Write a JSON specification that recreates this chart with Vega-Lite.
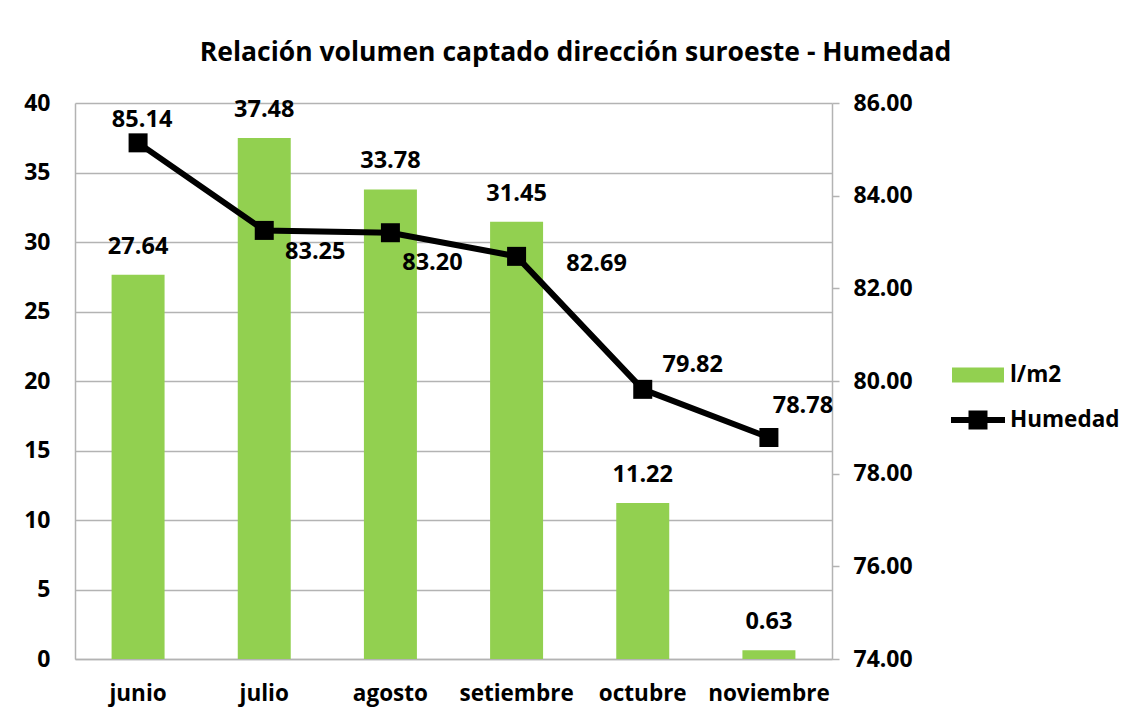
{
  "$schema": "https://vega.github.io/schema/vega-lite/v6.json",
  "autosize": {"type": "none"},
  "width": 757,
  "height": 556,
  "padding": {"left": 75, "top": 103, "right": 302, "bottom": 61},
  "background": "white",
  "title": {
    "text": "Relación volumen captado dirección suroeste - Humedad",
    "font": "Open Sans",
    "fontSize": 26.5,
    "fontWeight": "bold",
    "color": "black",
    "anchor": "middle",
    "frame": "group",
    "dx": 122,
    "offset": 26
  },
  "data": {
    "values": [
      {"mes": "junio", "lm2": 27.64, "humedad": 85.14},
      {"mes": "julio", "lm2": 37.48, "humedad": 83.25},
      {"mes": "agosto", "lm2": 33.78, "humedad": 83.20},
      {"mes": "setiembre", "lm2": 31.45, "humedad": 82.69},
      {"mes": "octubre", "lm2": 11.22, "humedad": 79.82},
      {"mes": "noviembre", "lm2": 0.63, "humedad": 78.78}
    ]
  },
  "encoding": {
    "x": {
      "field": "mes",
      "type": "nominal",
      "sort": ["junio", "julio", "agosto", "setiembre", "octubre", "noviembre"],
      "scale": {"paddingInner": 0.58, "paddingOuter": 0.29},
      "axis": {
        "title": null,
        "labelAngle": 0,
        "ticks": false,
        "labelPadding": 23,
        "domainColor": "#b3b3b3",
        "domainWidth": 1.5,
        "labelFont": "Open Sans",
        "labelFontSize": 22.5,
        "labelFontWeight": "bold",
        "labelColor": "black"
      }
    }
  },
  "layer": [
    {
      "encoding": {
        "y": {
          "field": "lm2",
          "type": "quantitative",
          "scale": {"domain": [0, 40], "nice": false, "zero": true},
          "axis": {
            "title": null,
            "values": [0, 5, 10, 15, 20, 25, 30, 35, 40],
            "grid": true,
            "gridColor": "#b3b3b3",
            "gridWidth": 1.5,
            "ticks": false,
            "labelPadding": 25,
            "domainColor": "#b3b3b3",
            "domainWidth": 1.5,
            "labelFont": "Open Sans",
            "labelFontSize": 23,
            "labelFontWeight": "bold",
            "labelColor": "black"
          }
        }
      },
      "layer": [
        {
          "mark": {"type": "bar"},
          "encoding": {
            "color": {
              "datum": "l/m2",
              "type": "nominal",
              "scale": {"domain": ["l/m2", "Humedad"], "range": ["#92D050", "#000000"]},
              "legend": {
                "orient": "none",
                "legendX": 888,
                "legendY": 257,
                "title": null,
                "padding": 0,
                "symbolSize": 900,
                "symbolStrokeWidth": 0,
                "symbolOpacity": 1,
                "labelFont": "Open Sans",
                "labelFontSize": 22.5,
                "labelFontWeight": "bold",
                "labelColor": "black",
                "labelOffset": 17,
                "labelLimit": 300,
                "rowPadding": 18,
                "encode": {
                  "symbols": {
                    "update": {
                      "shape": {"signal": "datum.value === 'Humedad' ? 'M-1.8,-0.2H1.8V0.2H-1.8Z M-0.633,-0.633H0.633V0.633H-0.633Z' : 'M-1.733,-0.5H1.733V0.5H-1.733Z'"}
                    }
                  }
                }
              }
            }
          }
        },
        {
          "mark": {"type": "text", "font": "Open Sans", "fontSize": 23.5, "fontWeight": "bold", "color": "black", "baseline": "middle", "dy": -28},
          "encoding": {"text": {"field": "lm2", "type": "quantitative", "format": ".2f"}}
        }
      ]
    },
    {
      "encoding": {
        "y": {
          "field": "humedad",
          "type": "quantitative",
          "scale": {"domain": [74, 86], "nice": false, "zero": false},
          "axis": {
            "orient": "right",
            "title": null,
            "values": [74, 76, 78, 80, 82, 84, 86],
            "format": ".2f",
            "grid": false,
            "ticks": true,
            "tickSize": 7,
            "tickColor": "#b3b3b3",
            "tickWidth": 1.5,
            "labelPadding": 14,
            "domainColor": "#b3b3b3",
            "domainWidth": 1.5,
            "labelFont": "Open Sans",
            "labelFontSize": 23,
            "labelFontWeight": "bold",
            "labelColor": "black"
          }
        }
      },
      "layer": [
        {"mark": {"type": "line", "color": "black", "strokeWidth": 6}},
        {"mark": {"type": "point", "shape": "square", "filled": true, "color": "black", "size": 361, "opacity": 1}},
        {
          "transform": [{"filter": "datum.mes === 'junio'"}],
          "mark": {"type": "text", "font": "Open Sans", "fontSize": 23.5, "fontWeight": "bold", "color": "black", "baseline": "middle", "dx": 4, "dy": -23},
          "encoding": {"text": {"field": "humedad", "type": "quantitative", "format": ".2f"}}
        },
        {
          "transform": [{"filter": "datum.mes === 'julio'"}],
          "mark": {"type": "text", "font": "Open Sans", "fontSize": 23.5, "fontWeight": "bold", "color": "black", "baseline": "middle", "dx": 51, "dy": 22},
          "encoding": {"text": {"field": "humedad", "type": "quantitative", "format": ".2f"}}
        },
        {
          "transform": [{"filter": "datum.mes === 'agosto'"}],
          "mark": {"type": "text", "font": "Open Sans", "fontSize": 23.5, "fontWeight": "bold", "color": "black", "baseline": "middle", "dx": 42, "dy": 30},
          "encoding": {"text": {"field": "humedad", "type": "quantitative", "format": ".2f"}}
        },
        {
          "transform": [{"filter": "datum.mes === 'setiembre'"}],
          "mark": {"type": "text", "font": "Open Sans", "fontSize": 23.5, "fontWeight": "bold", "color": "black", "baseline": "middle", "dx": 80, "dy": 8},
          "encoding": {"text": {"field": "humedad", "type": "quantitative", "format": ".2f"}}
        },
        {
          "transform": [{"filter": "datum.mes === 'octubre'"}],
          "mark": {"type": "text", "font": "Open Sans", "fontSize": 23.5, "fontWeight": "bold", "color": "black", "baseline": "middle", "dx": 50, "dy": -24},
          "encoding": {"text": {"field": "humedad", "type": "quantitative", "format": ".2f"}}
        },
        {
          "transform": [{"filter": "datum.mes === 'noviembre'"}],
          "mark": {"type": "text", "font": "Open Sans", "fontSize": 23.5, "fontWeight": "bold", "color": "black", "baseline": "middle", "dx": 34, "dy": -32},
          "encoding": {"text": {"field": "humedad", "type": "quantitative", "format": ".2f"}}
        }
      ]
    }
  ],
  "resolve": {"scale": {"y": "independent"}},
  "config": {"view": {"stroke": null}}
}
